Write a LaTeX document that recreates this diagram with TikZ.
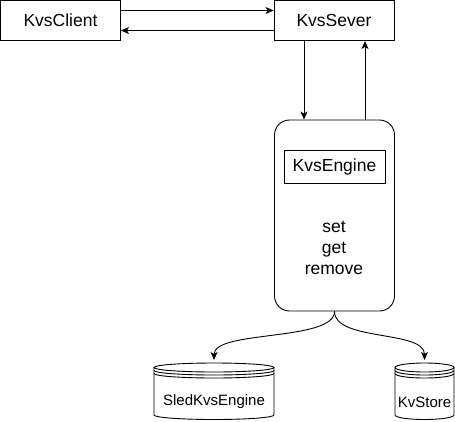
\documentclass[tikz,border=0pt]{standalone}
\usepackage{fontspec}
\setmainfont{Liberation Sans}
\usetikzlibrary{arrows.meta}

\tikzset{
	box/.style={draw, line width=0.9pt, minimum width=120pt, minimum height=40pt, inner sep=0pt, font=\fontsize{17.5}{21}\selectfont},
	arr/.style={line width=0.9pt, -{Stealth[length=8pt,width=7pt,inset=2pt]}},
}

\begin{document}
\begin{tikzpicture}[x=1pt,y=1pt]
	\useasboundingbox (0,0) rectangle (455,-421);
	
	%Client and server
	\node[box] (client) at (60.5,-20.5) {KvsClient};
	\node[box] (server) at (334,-20.5) {KvsSever};
	\draw[arr] ([yshift=10pt]client.east)--([yshift=10pt]server.west);
	\draw[arr] ([yshift=-10pt]server.west)--([yshift=-10pt]client.east);
	
	%Engine
	\node[box, rounded corners=15pt, minimum width=120pt, minimum height=191pt] (engine) at (334.5,-215.5) {};
	\node[box, minimum width=101pt, minimum height=33pt] (kvsengine) at (334.5,-166.5) {KvsEngine};
	\node[align=center, font=\fontsize{17.5}{21}\selectfont] (ops) at (334,-248) {set\\get\\remove};
	\draw[arr] ([xshift=-30pt]server.south)--([xshift=-30.5pt]engine.north);
	\draw[arr] ([xshift=30.5pt]engine.north)--([xshift=31pt]server.south);
	
	%Storage cylinders
	\foreach \cx/\r/\name/\txt in {214/60/sled/SledKvsEngine, 424.5/29.5/kvstore/KvStore}{
		\draw[line width=0.9pt] (\cx-\r,-367.5)--(\cx-\r,-415) arc[start angle=180,end angle=360,x radius=\r,y radius=4.5]--(\cx+\r,-367.5);
		\draw[line width=0.9pt] (\cx,-367.5) ellipse[x radius=\r,y radius=4.5];
		\draw[line width=0.9pt] (\cx-\r,-370.5) arc[start angle=180,end angle=360,x radius=\r,y radius=4.5];
		\draw[line width=0.9pt] (\cx-\r,-373.5) arc[start angle=180,end angle=360,x radius=\r,y radius=4.5];
		\node[font=\fontsize{15}{18}\selectfont] (\name) at (\cx,-402) {\txt};
		\coordinate (\name-top) at (\cx,-360);
	}
	\draw[arr] (engine.south) .. controls +(0,-30) and +(0,30) .. (sled-top);
	\draw[arr] (engine.south) .. controls +(0,-30) and +(0,30) .. (kvstore-top);
	
\end{tikzpicture}
\end{document}
